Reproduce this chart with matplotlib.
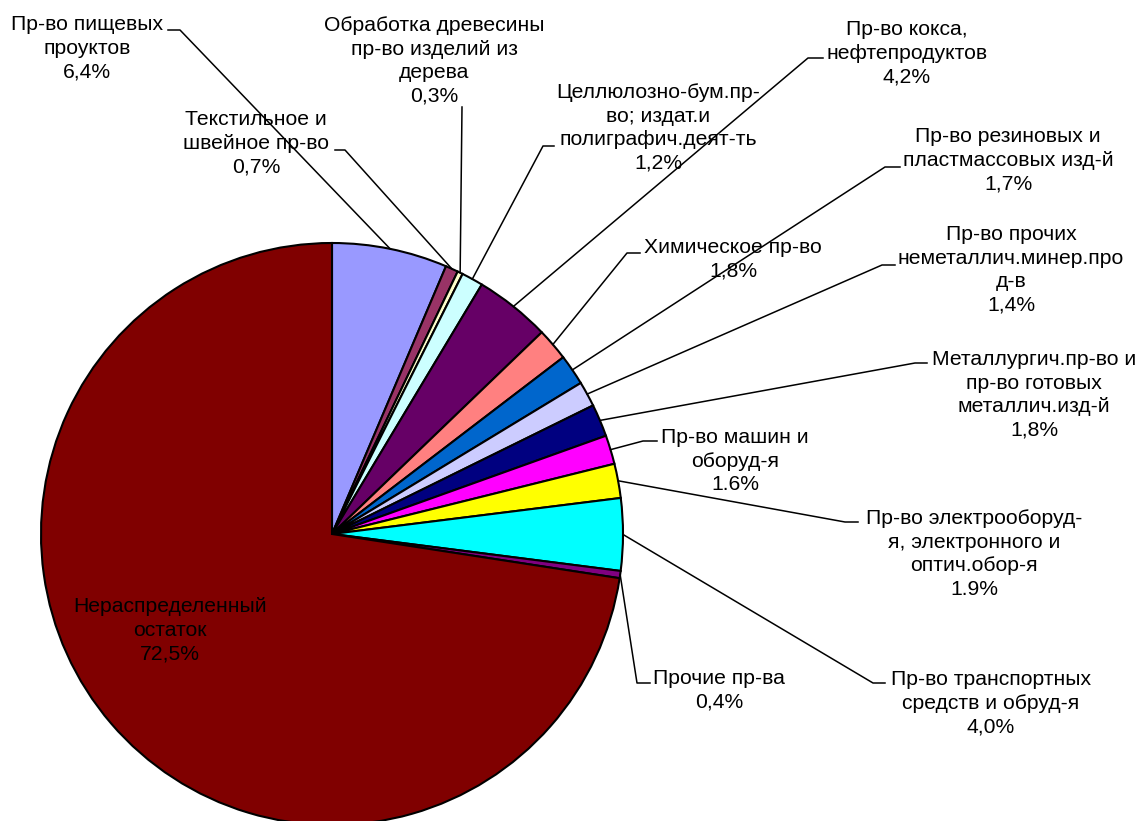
import matplotlib
matplotlib.use('Agg')
import matplotlib.pyplot as plt
import numpy as np

plt.rcParams['font.family'] = ['Liberation Sans', 'DejaVu Sans']

# доли отраслей, %
labels = ['Пр-во пищевых\nпроуктов', 'Текстильное и\nшвейное пр-во',
          'Обработка древесины\nпр-во изделий из\nдерева', 'Целлюлозно-бум.пр-\nво; издат.и\nполиграфич.деят-ть',
          'Пр-во кокса,\nнефтепродуктов', 'Химическое пр-во',
          'Пр-во резиновых и\nпластмассовых изд-й', 'Пр-во прочих\nнеметаллич.минер.про\nд-в',
          'Металлургич.пр-во и\nпр-во готовых\nметаллич.изд-й', 'Пр-во машин и\nоборуд-я',
          'Пр-во электрооборуд-\nя, электронного и\nоптич.обор-я', 'Пр-во транспортных\nсредств и обруд-я',
          'Прочие пр-ва', 'Нераспределенный\nостаток']
values = [6.4, 0.7, 0.3, 1.2, 4.2, 1.8, 1.7, 1.4, 1.8, 1.6, 1.9, 4.0, 0.4, 72.5]
pct_text = ['6,4%', '0,7%', '0,3%', '1,2%', '4,2%', '1,8%', '1,7%', '1,4%',
            '1,8%', '1.6%', '1.9%', '4,0%', '0,4%', '72,5%']
colors = ['#9999FF', '#993366', '#FFFFCC', '#CCFFFF', '#660066', '#FF8080', '#0066CC',
          '#CCCCFF', '#000080', '#FF00FF', '#FFFF00', '#00FFFF', '#800080', '#800000']

W, H = 1139, 821
fig = plt.figure(figsize=(W / 100, H / 100), dpi=100)
ax = fig.add_axes([0, 0, 1, 1])

cx, cy, R = 332, H - 534, 291
wedges, _ = ax.pie(values, colors=colors, startangle=90, counterclock=False,
                   center=(cx, cy), radius=R,
                   wedgeprops=dict(edgecolor='black', linewidth=1.5))
ax.set_xlim(0, W)
ax.set_ylim(0, H)
ax.set_aspect('auto')
ax.axis('off')

# положение подписей (центр текста) и полочки выноски, в пикселях сверху
text_pos = [(87, 48), (256, 143), (434, 61), (658, 128), (907, 53), (733, 259),
            (1008, 160), (1011, 270), (1034, 395), (735, 461), (974, 554), (991, 703),
            (719, 690), (170, 630)]
stubs = [((180, 30), (168, 30)), ((345, 150), (335, 150)), ((462, 107), (462, 107)),
         ((543, 146), (554, 146)), ((808, 58), (823, 58)), ((627, 253), (640, 253)),
         ((885, 167), (900, 167)), ((882, 265), (895, 265)), ((915, 363), (927, 363)),
         ((643, 441), (657, 441)), ((845, 522), (858, 522)), ((873, 683), (885, 683)),
         ((637, 683), (650, 683)), None]

for w, lab, pct, (tx, ty), st in zip(wedges, labels, pct_text, text_pos, stubs):
    ax.text(tx, H - ty, lab + '\n' + pct, ha='center', va='center',
            fontsize=15.2, linespacing=1.3, color='black')
    if st is None:
        continue
    mid = np.deg2rad((w.theta1 + w.theta2) / 2)
    px, py = cx + R * np.cos(mid), cy + R * np.sin(mid)
    (x1, y1), (x2, y2) = st
    ax.plot([px, x1, x2], [py, H - y1, H - y2], color='black', linewidth=1.1)

fig.savefig('out.png', dpi=100)
